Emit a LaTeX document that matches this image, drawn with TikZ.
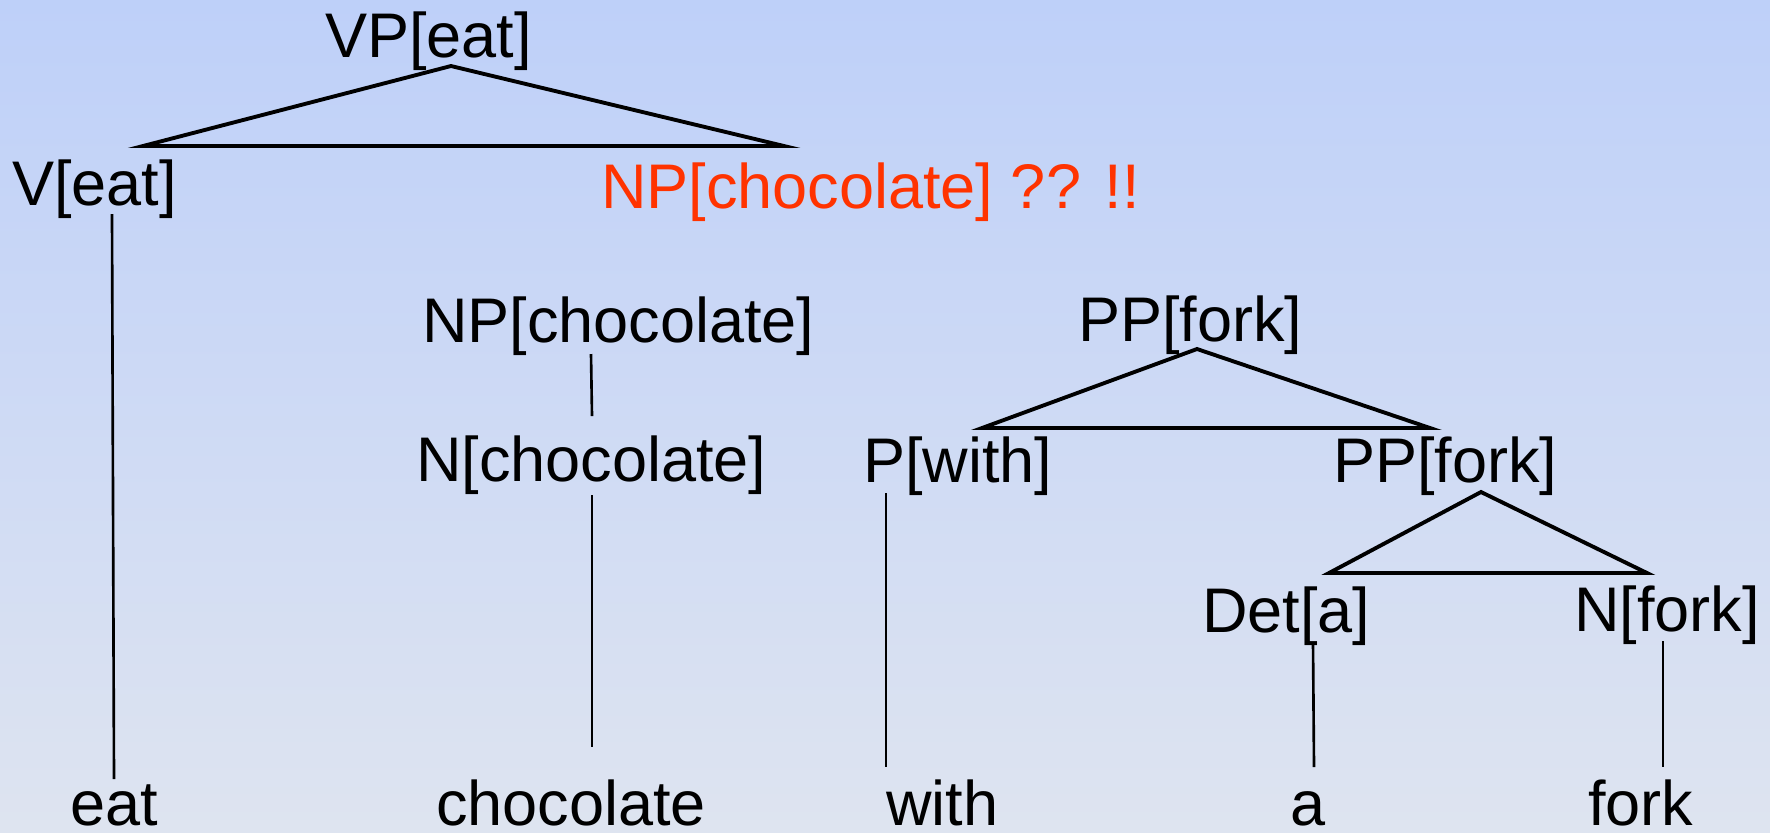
\documentclass[tikz,border=0pt]{standalone}
\usepackage{fontspec}
\setmainfont{Liberation Sans}
\definecolor{bgtop}{RGB}{190,208,249}
\definecolor{bgbottom}{RGB}{222,228,240}
\definecolor{hilite}{RGB}{255,51,0}
\begin{document}
\begin{tikzpicture}[x=0.01cm,y=-0.01cm,
  lab/.style={anchor=base west,inner sep=0pt,outer sep=0pt,
    font=\fontsize{17.93}{20}\selectfont},
  tri/.style={line width=1.1pt,line join=miter},
  stem/.style={line width=0.75pt}]
% background
\shade[top color=bgtop,bottom color=bgbottom] (0,0) rectangle (1770,832);
\useasboundingbox (0,0) rectangle (1770,832);

% category labels
\node[lab] (vp)  at (325,57)  {VP[eat]};
\node[lab] (v)   at (12,205)  {V[eat]};
\node[lab,text=hilite] (npq) at (601,208) {NP[chocolate] ?? !!};
\node[lab] (np)  at (422,342) {NP[chocolate]};
\node[lab] (n)   at (416,481) {N[chocolate]};
\node[lab] (pp)  at (1078,341) {PP[fork]};
\node[lab] (p)   at (863,482) {P[with]};
\node[lab] (pp2) at (1333,482) {PP[fork]};
\node[lab] (det) at (1202,632) {Det[a]};
\node[lab] (nf)  at (1574,631) {N[fork]};

% words
\node[lab] (weat)  at (70,825)   {eat};
\node[lab] (wchoc) at (436,825)  {chocolate};
\node[lab] (wwith) at (886,825)  {with};
\node[lab] (wa)    at (1290,825) {a};
\node[lab] (wfork) at (1588,825) {fork};

% triangle corners
\coordinate (vp-apex) at (451,66);
\coordinate (vp-l) at (143,146);
\coordinate (vp-r) at (784,146);
\coordinate (pp-apex) at (1197,349);
\coordinate (pp-l) at (982,428);
\coordinate (pp-r) at (1430,428);
\coordinate (pp2-apex) at (1481,492);
\coordinate (pp2-l) at (1329,573);
\coordinate (pp2-r) at (1647,573);

% stem ends
\coordinate (v-s) at (112,214);   \coordinate (weat-s) at (114,779);
\coordinate (np-s) at (591,354);  \coordinate (n-t) at (592,416);
\coordinate (n-s) at (592,495);   \coordinate (wchoc-s) at (592,747);
\coordinate (p-s) at (886,493);   \coordinate (wwith-s) at (886,767);
\coordinate (det-s) at (1313,643);\coordinate (wa-s) at (1314,767);
\coordinate (nf-s) at (1663,641); \coordinate (wfork-s) at (1663,767);

% triangles
\draw[tri] (vp-apex) -- (vp-l) -- (vp-r) -- cycle;
\draw[tri] (pp-apex) -- (pp-l) -- (pp-r) -- cycle;
\draw[tri] (pp2-apex) -- (pp2-l) -- (pp2-r) -- cycle;

% unary branches
\draw[stem] (v-s) -- (weat-s);
\draw[stem] (np-s) -- (n-t);
\draw[stem] (n-s) -- (wchoc-s);
\draw[stem] (p-s) -- (wwith-s);
\draw[stem] (det-s) -- (wa-s);
\draw[stem] (nf-s) -- (wfork-s);
\end{tikzpicture}
\end{document}
